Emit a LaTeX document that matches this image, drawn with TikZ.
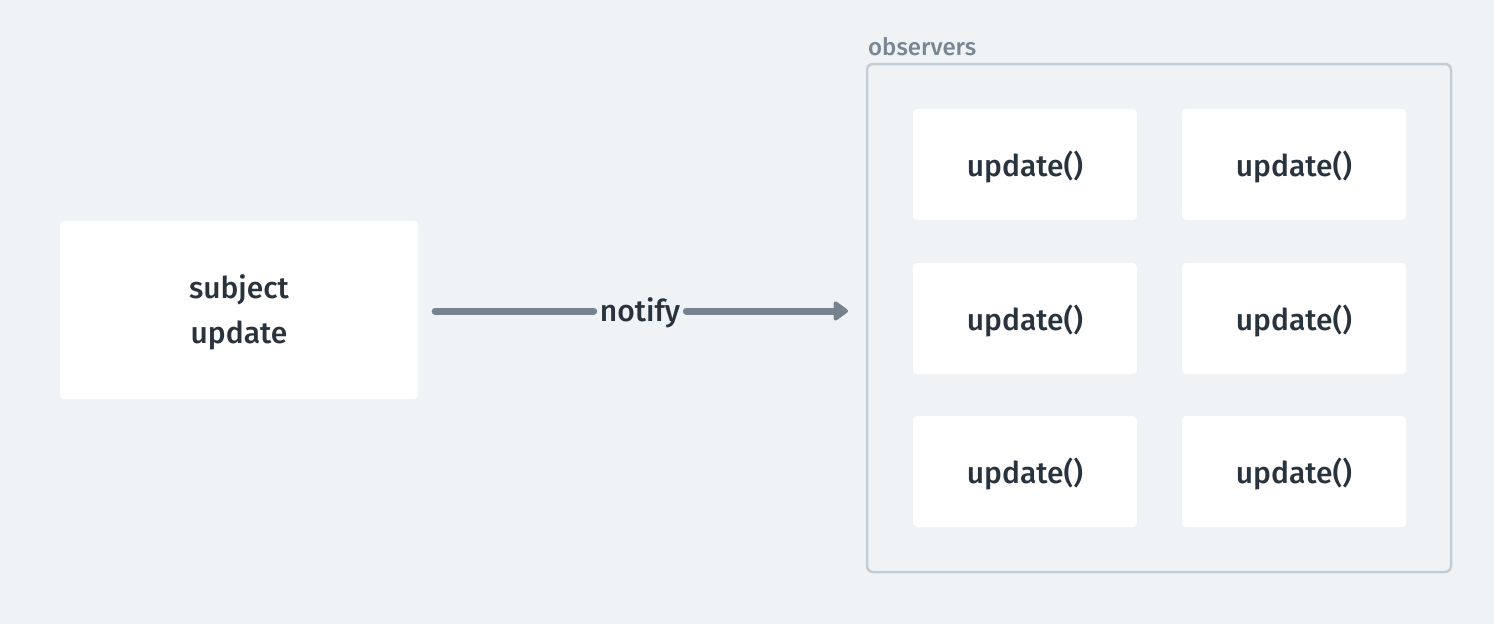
\documentclass[tikz,border=0pt]{standalone}
\usepackage{fontspec}
\setmainfont{Fira Sans}[UprightFont=* Medium]
\usetikzlibrary{arrows.meta}
\definecolor{bg}{HTML}{EFF3F6}
\definecolor{txt}{HTML}{29333E}
\definecolor{edge}{HTML}{76838F}
\definecolor{frame}{HTML}{C3CDD5}
\definecolor{lbl}{HTML}{7A8692}
\tikzset{
  card/.style={fill=white, rounded corners=4pt, inner sep=0pt},
  obs/.style={card, minimum width=224pt, minimum height=111pt},
  words/.style={inner sep=0pt, text=txt, font=\fontsize{30}{45}\selectfont, align=center, yshift=-2pt},
}
\begin{document}
\begin{tikzpicture}[x=1pt,y=-1pt]
\fill[bg] (0,0) rectangle (1494,624);
\useasboundingbox (0,0) rectangle (1494,624);
\node[card, minimum width=358pt, minimum height=178pt] (subj) at (239,310) {};
\node[words] (subjt) at (subj) {subject\\update};
\draw[frame, line width=2.5pt, rounded corners=6pt] (867,64) rectangle (1451,572);
\node[anchor=base west, inner sep=0pt, text=lbl, font=\fontsize{24}{28}\selectfont] (obslbl) at (868,55) {observers};
\foreach \n/\x/\y in {o11/1025/164.5, o12/1294/164.5, o21/1025/318.5, o22/1294/318.5, o31/1025/471.5, o32/1294/471.5}{
  \node[obs] (\n) at (\x,\y) {};
  \node[words] (\n t) at (\n) {update()};
}
\coordinate (tip) at (848,311);
\node[words] (lab) at (640,311) {notify};
\draw[edge, line width=7pt, line cap=round] ([xshift=17pt]subj.east |- tip) -- ([xshift=-6pt]lab.west |- tip);
\draw[edge, line width=7pt, line cap=round, -{Triangle[length=16pt,width=22pt,round]}] ([xshift=6pt]lab.east |- tip) -- (tip);
\end{tikzpicture}
\end{document}
